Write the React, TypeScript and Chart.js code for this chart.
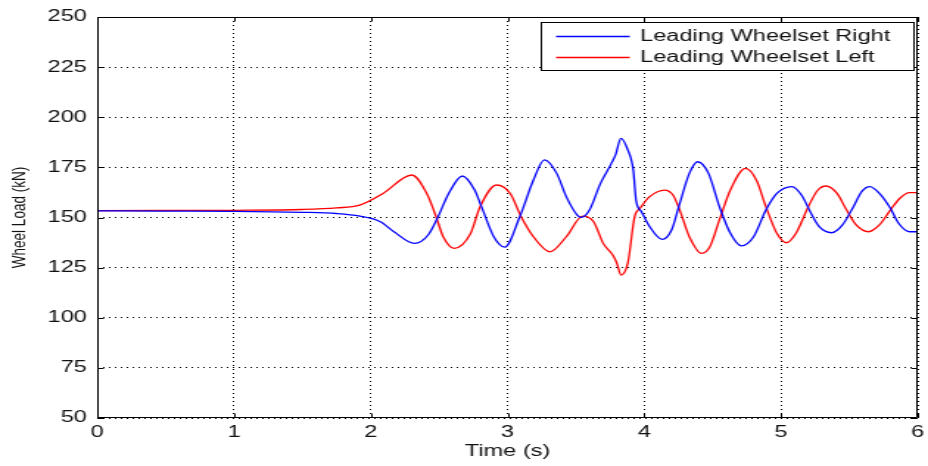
import React, { useEffect, useRef } from "react";
import { Chart, registerables } from "chart.js";

Chart.register(...registerables);

// ---- data ----
const timeRight = [0, 0.5, 1.0, 1.5, 1.75, 1.92, 2.07, 2.17, 2.32, 2.42, 2.49, 2.57, 2.67, 2.76, 2.81, 2.9, 2.98, 3.09, 3.19, 3.27, 3.36, 3.43, 3.51, 3.54, 3.6, 3.68, 3.76, 3.79, 3.83, 3.88, 3.92, 3.94, 3.98, 4.04, 4.13, 4.2, 4.26, 4.33, 4.39, 4.47, 4.55, 4.63, 4.71, 4.8, 4.89, 4.97, 5.08, 5.15, 5.22, 5.28, 5.37, 5.45, 5.53, 5.59, 5.65, 5.72, 5.8, 5.86, 5.94, 6.0];
const loadRight = [153.3, 153.2, 153.1, 152.6, 152.0, 150.7, 147.9, 142.9, 137.1, 141.3, 150.0, 162.0, 170.7, 163.7, 155.4, 140.4, 135.2, 150.4, 168.7, 178.7, 172.0, 160.4, 151.2, 150.1, 153.7, 167.0, 177.0, 181.2, 189.5, 183.7, 173.7, 158.7, 152.9, 145.4, 139.1, 143.8, 157.1, 172.0, 177.8, 172.0, 155.4, 142.1, 135.8, 140.4, 153.7, 162.0, 165.4, 161.2, 152.1, 145.4, 142.4, 146.3, 155.4, 162.9, 165.4, 162.0, 154.6, 147.1, 142.9, 142.9];

const timeLeft = [0, 0.5, 1.0, 1.5, 1.75, 1.92, 2.09, 2.3, 2.41, 2.48, 2.53, 2.61, 2.73, 2.8, 2.92, 3.02, 3.1, 3.19, 3.31, 3.43, 3.55, 3.63, 3.7, 3.77, 3.8, 3.83, 3.88, 3.93, 3.97, 4.04, 4.15, 4.21, 4.26, 4.33, 4.42, 4.48, 4.55, 4.63, 4.74, 4.82, 4.89, 4.97, 5.04, 5.11, 5.2, 5.27, 5.33, 5.41, 5.48, 5.55, 5.64, 5.72, 5.8, 5.87, 5.94, 6.0];
const loadLeft = [153.4, 153.5, 153.6, 154.0, 154.8, 156.2, 162.0, 171.2, 162.0, 150.0, 140.4, 134.6, 142.0, 155.4, 166.2, 162.0, 150.4, 140.4, 132.9, 140.4, 150.7, 147.9, 137.1, 131.3, 127.2, 121.3, 127.2, 150.4, 154.6, 160.4, 163.7, 161.2, 153.7, 140.4, 132.1, 135.4, 148.8, 163.7, 174.5, 168.7, 155.4, 142.1, 137.4, 142.1, 155.4, 163.7, 165.7, 162.0, 153.7, 146.3, 142.9, 146.3, 153.7, 159.6, 162.4, 162.4];

const seriesLabels = ["Leading Wheelset Right", "Leading Wheelset Left"];
const seriesColors = ["#0000ff", "#ff0000"];
const xTitle = "Time (s)";
const yTitle = "Wheel Load (kN)";

const FONT = "'Liberation Sans', Arial, Helvetica, sans-serif";
const TEXT = "#111111";

const matlabPlugin = {
  id: "matlabAxes",
  afterDatasetsDraw(chart: any) {
    const { ctx, chartArea, scales } = chart;
    const { left, right, top, bottom } = chartArea;
    const L = Math.round(left) + 0.5;
    const R = Math.round(right) - 0.5;
    const T = Math.round(top) + 0.5;
    const B = Math.round(bottom) - 0.5;
    ctx.save();
    ctx.strokeStyle = "#000";
    ctx.lineWidth = 1;
    ctx.setLineDash([]);
    ctx.beginPath();
    ctx.rect(L, T, R - L, B - T);
    ctx.stroke();
    const tl = 4;
    ctx.beginPath();
    scales.x.ticks.forEach((t: any) => {
      const px = Math.round(scales.x.getPixelForValue(t.value)) + 0.5;
      ctx.moveTo(px, B);
      ctx.lineTo(px, B - tl);
      ctx.moveTo(px, T);
      ctx.lineTo(px, T + tl);
    });
    scales.y.ticks.forEach((t: any) => {
      const py = Math.round(scales.y.getPixelForValue(t.value)) + 0.5;
      ctx.moveTo(L, py);
      ctx.lineTo(L + tl, py);
      ctx.moveTo(R, py);
      ctx.lineTo(R - tl, py);
    });
    ctx.stroke();

    // legend box (MATLAB style, inside top-right)
    const bx = Math.round(right - 256) + 0.5;
    const by = Math.round(top + 5) + 0.5;
    const bw = 253;
    const bh = 48;
    ctx.fillStyle = "#fff";
    ctx.fillRect(bx, by, bw, bh);
    ctx.strokeStyle = "#000";
    ctx.strokeRect(bx, by, bw, bh);
    ctx.font = `16px ${FONT}`;
    ctx.textBaseline = "middle";
    ctx.textAlign = "left";
    chart.data.datasets.forEach((ds: any, i: number) => {
      const ry = by + 13.5 + i * 21;
      ctx.strokeStyle = ds.borderColor;
      ctx.lineWidth = 1.3;
      ctx.beginPath();
      ctx.moveTo(bx + 10, Math.round(ry) + 0.5);
      ctx.lineTo(bx + 60, Math.round(ry) + 0.5);
      ctx.stroke();
      ctx.fillStyle = TEXT;
      ctx.fillText(ds.label, bx + 67, ry + 1);
    });
    ctx.restore();
  },
};

export default function App() {
  const ref = useRef<HTMLCanvasElement>(null);
  useEffect(() => {
    document.body.style.margin = "0";
    const canvas = ref.current!;
    const chart = new Chart(canvas, {
      type: "line",
      data: {
        datasets: [
          {
            label: seriesLabels[0],
            data: timeRight.map((t, i) => ({ x: t, y: loadRight[i] })),
            borderColor: seriesColors[0],
            borderWidth: 1.3,
            pointRadius: 0,
            fill: false,
            cubicInterpolationMode: "monotone",
          },
          {
            label: seriesLabels[1],
            data: timeLeft.map((t, i) => ({ x: t, y: loadLeft[i] })),
            borderColor: seriesColors[1],
            borderWidth: 1.3,
            pointRadius: 0,
            fill: false,
            cubicInterpolationMode: "monotone",
          },
        ],
      },
      options: {
        animation: false,
        responsive: false,
        devicePixelRatio: 1,
        layout: { padding: { top: 17, right: 7, left: 0, bottom: 0 } },
        plugins: { legend: { display: false }, tooltip: { enabled: false } },
        scales: {
          x: {
            type: "linear",
            min: 0,
            max: 6,
            ticks: { stepSize: 1, font: { size: 16, family: FONT }, color: TEXT, padding: 5, maxRotation: 0 },
            grid: { color: "#000", lineWidth: 1, drawTicks: false },
            border: { display: false, dash: [1, 3] },
            title: { display: true, text: xTitle, font: { size: 16, family: FONT }, color: TEXT, padding: { top: 0, bottom: 5 } },
            afterFit: (s: any) => {
              s.height = 48;
              s.paddingLeft = 0;
              s.paddingRight = 0;
            },
          },
          y: {
            type: "linear",
            min: 50,
            max: 250,
            ticks: { stepSize: 25, font: { size: 16, family: FONT }, color: TEXT, padding: 7 },
            grid: { color: "#000", lineWidth: 1, drawTicks: false },
            border: { display: false, dash: [1, 3] },
            title: { display: true, text: yTitle, font: { size: 13.5, family: FONT }, color: TEXT, padding: { top: 5, bottom: 0 } },
            afterFit: (s: any) => {
              s.width = 66;
              s.paddingTop = 0;
              s.paddingBottom = 0;
            },
          },
        },
      },
      plugins: [matlabPlugin],
    } as any);
    return () => chart.destroy();
  }, []);
  return (
    <canvas
      ref={ref}
      width={630}
      height={466}
      style={{ display: "block", width: "928px", height: "466px" }}
    />
  );
}
